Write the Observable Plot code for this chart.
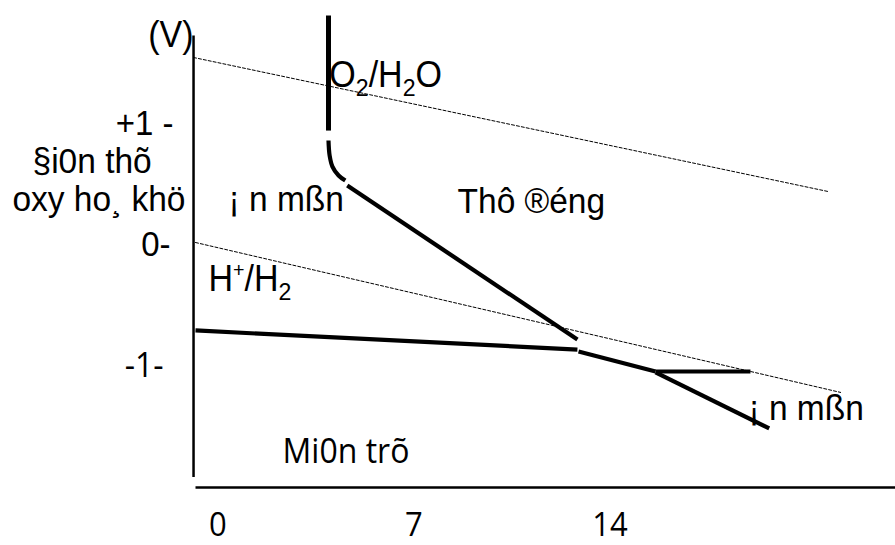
<!DOCTYPE html>
<html>
<head>
<meta charset="utf-8">
<script src="https://cdn.jsdelivr.net/npm/d3@7"></script>
<script src="https://cdn.jsdelivr.net/npm/@observablehq/plot@0.6"></script>
<style>
  html, body { margin: 0; padding: 0; background: #fff; }
</style>
</head>
<body>
<div id="chart"></div>
<script>
// ---- data (pH on x, potential in V on y) ----
const xTicks = [0, 7, 14];
const yTickValues = [1, 0, -1];
const yTickLabels = ["+1 -", "0-", "-1-"];

const yAxisPH = [-0.87, -0.87], yAxisV = [1.73, -1.92];
const xAxisPH = [-0.8, 24.2], xAxisV = [-2.006, -2.006];

const o2LinePH = [-0.87, 21.8], o2LineV = [1.548, 0.44];
const h2LinePH = [-0.8, 22.24], h2LineV = [0.019, -1.22];

const passVertPH = [3.95, 3.95], passVertV = [1.895, 0.944];
const bendPH = [3.95, 3.99, 4.09, 4.31, 4.55], bendV = [0.862, 0.738, 0.647, 0.573, 0.531];
const passSlopePH = [4.62, 12.84], passSlopeV = [0.49, -0.783];
const immunePH = [-0.8, 12.84], immuneV = [-0.708, -0.866];
const lowerPH = [12.88, 15.63], lowerV = [-0.882, -1.047];
const flatPH = [15.63, 19.02], flatV = [-1.047, -1.047];
const tailPH = [15.63, 19.69], tailV = [-1.055, -1.518];

// annotation texts and their anchor points (pH, V)
const coupleTexts = ["O₂/H₂O", "H⁺/H₂"], couplePH = [3.98, -0.336], coupleV = [1.308, -0.378];
const leftTexts = ["§i0n thõ", "oxy ho¸ khö", "¡ n mßn", "Thô ®éng", "¡ n mßn"];
const leftPH    = [-6.62, -7.34, 0.379, 8.56, 18.95];
const leftV     = [0.595, 0.278, 0.278, 0.259, -1.452];
const unitText = ["(V)"], unitPH = [-0.87], unitV = [1.632];
const immuneText = ["Mi0n trõ"], immuneTextPH = [2.31], immuneTextV = [-1.80];
const yTickPH = [-1.586, -1.69, -1.94];

const pts = (xs, ys) => xs.map((x, i) => ({x, y: ys[i]}));
const SANS = "'Liberation Sans', Arial, sans-serif";
const OPEN = "'Open Sans', sans-serif";

const thick = {x: "x", y: "y", stroke: "black", strokeWidth: 4.2, strokeLinecap: "butt"};
const dashed = {x: "x", y: "y", stroke: "black", strokeWidth: 1, strokeDasharray: "3,2"};

const yTicks = yTickValues.map((v, i) => ({v, label: yTickLabels[i], ph: yTickPH[i]}));

const chart = Plot.plot({
  width: 895,
  height: 545,
  marginLeft: 195,
  marginRight: 0,
  marginTop: 2.3,
  marginBottom: 58.7,
  style: {background: "#fff", fontFamily: SANS, overflow: "visible"},
  x: {domain: [-0.8, 24.2]},
  y: {domain: [-2, 2], axis: null},
  marks: [
    Plot.line(pts(yAxisPH, yAxisV), {x: "x", y: "y", stroke: "black", strokeWidth: 2.5, strokeLinecap: "butt"}),
    Plot.line(pts(xAxisPH, xAxisV), {x: "x", y: "y", stroke: "black", strokeWidth: 2.5, strokeLinecap: "butt"}),
    Plot.line(pts(o2LinePH, o2LineV), dashed),
    Plot.line(pts(h2LinePH, h2LineV), dashed),
    Plot.line(pts(passVertPH, passVertV), {...thick, strokeWidth: 5}),
    Plot.line(pts(bendPH, bendV), {...thick, curve: "catmull-rom"}),
    Plot.line(pts(passSlopePH, passSlopeV), thick),
    Plot.line(pts(immunePH, immuneV), thick),
    Plot.line(pts(lowerPH, lowerV), thick),
    Plot.line(pts(flatPH, flatV), thick),
    Plot.line(pts(tailPH, tailV), thick),
    Plot.axisX({ticks: xTicks, tickSize: 0, tickPadding: 26, fontSize: 31, fontFamily: OPEN, label: null, tickFormat: d => String(d)}),
    Plot.text(yTicks.filter(d => d.v !== -1), {x: "ph", y: "v", text: "label", textAnchor: "end", lineAnchor: "middle", fontSize: 33, fontFamily: SANS}),
    Plot.text(yTicks.filter(d => d.v === -1), {x: "ph", y: "v", text: "label", textAnchor: "end", lineAnchor: "middle", fontSize: 32, fontFamily: OPEN}),
    Plot.text(unitText, {x: unitPH, y: unitV, text: d => d, textAnchor: "end", lineAnchor: "bottom", fontSize: 34, fontFamily: SANS}),
    Plot.text(coupleTexts, {x: couplePH, y: coupleV, text: d => d, textAnchor: "start", lineAnchor: "bottom", fontSize: 34, fontFamily: SANS}),
    Plot.text(leftTexts, {x: leftPH, y: leftV, text: d => d, textAnchor: "start", lineAnchor: "bottom", fontSize: 33.5, fontFamily: SANS}),
    Plot.text(immuneText, {x: immuneTextPH, y: immuneTextV, text: d => d, textAnchor: "start", lineAnchor: "bottom", fontSize: 32, fontFamily: OPEN})
  ]
});

// turn ₂ / ⁺ into real sub/superscript tspans
const NS = "http://www.w3.org/2000/svg";
chart.querySelectorAll("text").forEach(t => {
  const s = t.textContent;
  if (/[₂⁺]/.test(s)) {
    const fs = parseFloat(getComputedStyle(t).fontSize) || 34;
    t.textContent = "";
    let cur = 0;
    for (const ch of s) {
      const span = document.createElementNS(NS, "tspan");
      let shift = 0;
      if (ch === "₂") { span.textContent = "2"; shift = 0.27 * fs; span.setAttribute("font-size", (0.68 * fs) + "px"); }
      else if (ch === "⁺") { span.textContent = "+"; shift = -0.38 * fs; span.setAttribute("font-size", (0.58 * fs) + "px"); }
      else span.textContent = ch;
      if (shift !== cur) span.setAttribute("dy", shift - cur);
      cur = shift;
      t.appendChild(span);
    }
  }
  // the source lettering is slightly tall and narrow
  const tr = t.getAttribute("transform");
  if (tr) t.setAttribute("transform", tr + " scale(1,1.06)");
});

document.getElementById("chart").appendChild(chart);
</script>
</body>
</html>
